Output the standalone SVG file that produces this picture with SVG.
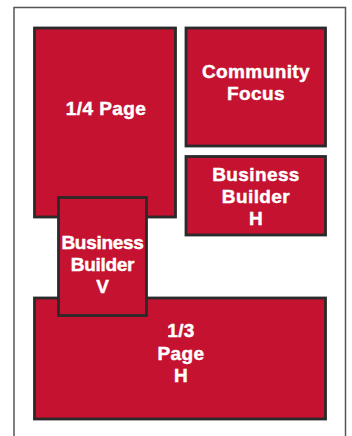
<svg xmlns="http://www.w3.org/2000/svg" width="352" height="436" viewBox="0 0 352 436">
<style>
.box{fill:#C41230;stroke:#2a2a2a;stroke-width:2.8}
.t{fill:#fff;stroke:#fff;stroke-width:0.45;font-family:"Liberation Sans",Arial,sans-serif;font-weight:bold;font-size:19px;letter-spacing:0.4px;text-anchor:middle}
.n{letter-spacing:-0.3px}
</style>
<rect width="352" height="436" fill="#fff"/>
<path d="M14 440V7.5H345.5V440" fill="none" stroke="#555" stroke-width="1.5"/>
<g id="connectors"></g>
<g id="quarter-page">
<rect class="box" x="34.5" y="28" width="141" height="189"/>
<text class="t" x="106" y="115">1/4 Page</text>
</g>
<g id="community-focus">
<rect class="box" x="186" y="28" width="139.5" height="118"/>
<text class="t" x="256" y="78">Community</text>
<text class="t" x="256" y="100">Focus</text>
</g>
<g id="business-builder-h">
<rect class="box" x="186" y="156.5" width="139.5" height="78.5"/>
<text class="t" x="256" y="181">Business</text>
<text class="t" x="256" y="203">Builder</text>
<text class="t" x="256" y="225">H</text>
</g>
<g id="third-page">
<rect class="box" x="34.5" y="298" width="291" height="121"/>
<text class="t" x="181" y="337">1/3</text>
<text class="t" x="181" y="360">Page</text>
<text class="t" x="181" y="382">H</text>
</g>
<g id="business-builder-v">
<rect class="box" x="58.5" y="197.5" width="88" height="118"/>
<text class="t n" x="102.5" y="249">Business</text>
<text class="t n" x="102.5" y="271">Builder</text>
<text class="t n" x="102.5" y="293">V</text>
</g>
</svg>
